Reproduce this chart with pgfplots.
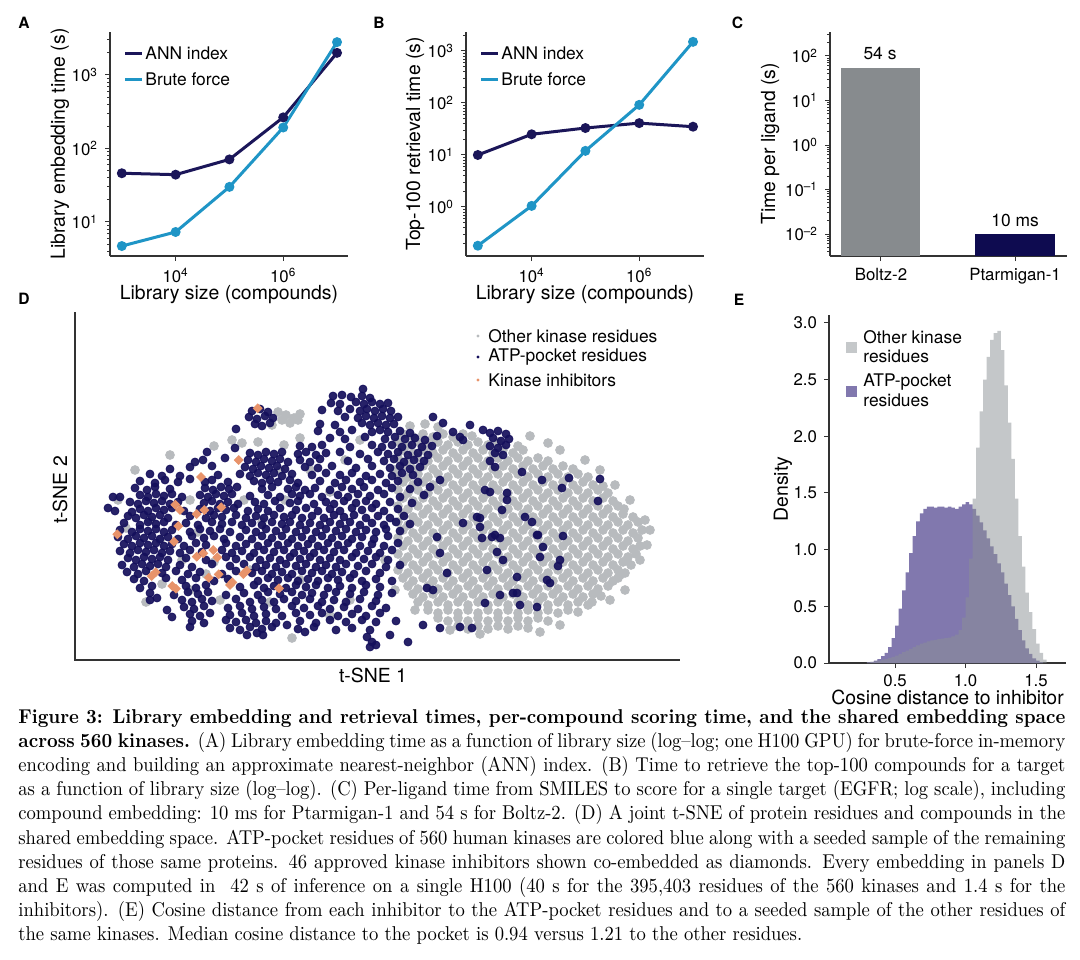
\documentclass[border=0pt]{standalone}
\usepackage{fontspec}
\setsansfont{TeX Gyre Heros}
\newfontfamily\capfont{lmroman10-regular.otf}[BoldFont=lmroman10-bold.otf, FakeStretch=0.93, Ligatures=TeX]
\usepackage{pgfplots}
\pgfplotsset{compat=1.18}
\definecolor{ann}{HTML}{1B1659}
\definecolor{brute}{HTML}{1F95C6}
\definecolor{barg}{HTML}{878B8E}
\definecolor{barn}{HTML}{0E0B50}
\definecolor{navyD}{HTML}{15105C}
\definecolor{grayD}{HTML}{B8BBBE}
\definecolor{orangeD}{HTML}{E8936A}
\definecolor{histg}{HTML}{8B9195}
\definecolor{histp}{HTML}{8178AE}
\definecolor{histgl}{HTML}{C5C8CA}
\definecolor{axgray}{HTML}{333333}
\newcommand{\tickfont}{\sffamily\fontsize{8.4}{10}\selectfont}
\newcommand{\labfont}{\sffamily\fontsize{9.7}{11}\selectfont}
\newcommand{\legfont}{\sffamily\fontsize{8.7}{10}\selectfont}
\pgfplotsset{panel/.style={scale only axis, anchor=north west, axis lines*=left,
 axis line style={-,axgray,line width=0.6pt}, tick style={axgray,line width=0.5pt},
 tick align=outside, major tick length=2.5pt, minor tick length=1.5pt,
 tick label style={font=\tickfont}, label style={font=\labfont}, clip=false}}
\begin{document}
\begin{tikzpicture}[font=\sffamily]
\path[use as bounding box, fill=white] (0,0) rectangle (540pt,-479.5pt);
% ---------------- A
\begin{axis}[panel, at={(55pt,-16pt)}, width=119pt, height=112pt,
 xmode=log, ymode=log, xmin=603, xmax=1.6e7, ymin=3.44, ymax=3846,
 xtick={1e4,1e6}, xticklabels={10\textsuperscript{4},10\textsuperscript{6}}, xminorticks=false,
 ytick={10,100,1000}, yticklabels={10\textsuperscript{1},10\textsuperscript{2},10\textsuperscript{3}},
 minor ytick={4,5,6,7,8,9,20,30,40,50,60,70,80,90,200,300,400,500,600,700,800,900,2000,3000},
 xlabel={Library size (compounds)}, ylabel={Library embedding time (s)},
 xlabel style={at={(axis description cs:0.5,-0.17)},anchor=center},
 ylabel style={at={(axis description cs:-0.21,0.5)},anchor=center}]
\addplot[ann, line width=1.5pt, mark=*, mark size=1.7pt] coordinates {(1e3,46)(1e4,44)(1e5,71)(1e6,265)(1e7,2000)};
\addplot[brute, line width=1.5pt, mark=*, mark size=1.7pt] coordinates {(1e3,4.7)(1e4,7.3)(1e5,30)(1e6,193)(1e7,2800)};
\end{axis}
\draw[ann, line width=1.5pt] (62.5pt,-26.5pt) -- (71pt,-26.5pt);
\node[anchor=west, inner sep=0pt, font=\legfont] at (72.5pt,-26.5pt) {ANN index};
\draw[brute, line width=1.5pt] (62.5pt,-39.5pt) -- (71pt,-39.5pt);
\node[anchor=west, inner sep=0pt, font=\legfont] at (72.5pt,-39.5pt) {Brute force};
% ---------------- B
\begin{axis}[panel, at={(233pt,-16pt)}, width=119pt, height=112pt,
 xmode=log, ymode=log, xmin=603, xmax=1.6e7, ymin=0.114, ymax=2317,
 xtick={1e4,1e6}, xticklabels={10\textsuperscript{4},10\textsuperscript{6}}, xminorticks=false,
 ytick={1,10,100,1000}, yticklabels={10\textsuperscript{0},10\textsuperscript{1},10\textsuperscript{2},10\textsuperscript{3}},
 minor ytick={0.2,0.3,0.4,0.5,0.6,0.7,0.8,0.9,2,3,4,5,6,7,8,9,20,30,40,50,60,70,80,90,200,300,400,500,600,700,800,900,2000},
 xlabel={Library size (compounds)}, ylabel={Top-100 retrieval time (s)},
 xlabel style={at={(axis description cs:0.5,-0.17)},anchor=center},
 ylabel style={at={(axis description cs:-0.214,0.5)},anchor=center}]
\addplot[ann, line width=1.5pt, mark=*, mark size=1.7pt] coordinates {(1e3,10)(1e4,25)(1e5,33)(1e6,41)(1e7,35)};
\addplot[brute, line width=1.5pt, mark=*, mark size=1.7pt] coordinates {(1e3,0.18)(1e4,1.05)(1e5,12)(1e6,92)(1e7,1500)};
\end{axis}
\draw[ann, line width=1.5pt] (240.5pt,-26.5pt) -- (249pt,-26.5pt);
\node[anchor=west, inner sep=0pt, font=\legfont] at (250.5pt,-26.5pt) {ANN index};
\draw[brute, line width=1.5pt] (240.5pt,-39.5pt) -- (249pt,-39.5pt);
\node[anchor=west, inner sep=0pt, font=\legfont] at (250.5pt,-39.5pt) {Brute force};
% ---------------- C
\begin{axis}[panel, at={(415pt,-16pt)}, width=118.5pt, height=112pt,
 ymode=log, log origin y=infty, ymin=0.00321, ymax=346, xmin=-0.38, xmax=1.388,
 xtick={0,1}, xticklabels={Boltz-2,Ptarmigan-1},
 ytick={0.01,0.1,1,10,100}, yticklabels={10\textsuperscript{\textendash2},10\textsuperscript{\textendash1},10\textsuperscript{0},10\textsuperscript{1},10\textsuperscript{2}},
 minor ytick={0.004,0.005,0.006,0.007,0.008,0.009,0.02,0.03,0.04,0.05,0.06,0.07,0.08,0.09,0.2,0.3,0.4,0.5,0.6,0.7,0.8,0.9,2,3,4,5,6,7,8,9,20,30,40,50,60,70,80,90,200,300},
 ylabel={Time per ligand (s)},
 ylabel style={at={(axis description cs:-0.253,0.5)},anchor=center}]
\addplot[ybar, bar width=0.59, fill=barg, draw=none] coordinates {(0,54)};
\addplot[ybar, bar width=0.59, fill=barn, draw=none] coordinates {(1,0.01)};
\end{axis}
\node[font=\legfont] at (440pt,-26.5pt) {54 s};
\node[font=\legfont] at (507.5pt,-110.3pt) {10 ms};
% ---------------- D
\begin{axis}[scale only axis, anchor=north west, at={(37.5pt,-156pt)}, width=302.5pt, height=174pt,
 xmin=75, xmax=680, ymin=312, ymax=660, y dir=reverse, hide axis, clip=false]
% other kinase residues
\addplot[only marks, color=grayD, mark=*, mark size=2.2pt] coordinates {
(410,426)(425,424)(438,427)
(403,434)(413,437)(423,434)(433,437)(443,434)(453,437)(463,434)(472,436)
(398,442)(408,445)(418,442)(428,445)(438,442)(448,445)(458,442)(468,445)(478,442)(488,445)(498,442)(518,446)
(403,450)(413,453)(423,450)(433,453)(443,450)(453,453)(463,450)(473,453)(483,450)(493,453)(503,450)(513,453)(523,450)
(398,458)(408,461)(418,458)(428,461)(438,458)(448,461)(458,458)(468,461)(478,458)(488,461)(498,458)(508,461)(518,458)(528,461)(538,458)(548,461)
(403,466)(413,469)(423,466)(433,469)(443,466)(453,469)(463,466)(473,469)(483,466)(493,469)(503,466)(513,469)(523,466)(533,469)(543,466)(553,469)(563,466)(573,469)
(398,474)(408,477)(418,474)(428,477)(438,474)(448,477)(458,474)(468,477)(478,474)(488,477)(498,474)(508,477)(518,474)(528,477)(538,474)(548,477)(558,474)(568,477)(578,474)(588,477)
(403,482)(413,485)(423,482)(433,485)(443,482)(453,485)(463,482)(473,485)(483,482)(493,485)(503,482)(513,485)(523,482)(533,485)(543,482)(553,485)(563,482)(573,485)(583,482)(593,485)(603,486)
(398,490)(408,493)(418,490)(428,493)(438,490)(448,493)(458,490)(468,493)(478,490)(488,493)(498,490)(508,493)(518,490)(528,493)(538,490)(548,493)(558,490)(568,493)(578,490)(588,493)(598,490)(608,493)
(403,498)(413,501)(423,498)(433,501)(443,498)(453,501)(463,498)(473,501)(483,498)(493,501)(503,498)(513,501)(523,498)(533,501)(543,498)(553,501)(563,498)(573,501)(583,498)(593,501)(603,498)(613,501)
(398,506)(408,509)(418,506)(428,509)(438,506)(448,509)(458,506)(468,509)(478,506)(488,509)(498,506)(508,509)(518,506)(528,509)(538,506)(548,509)(558,506)(568,509)(578,506)(588,509)(598,506)(608,509)(618,506)(624,509)
(403,514)(413,517)(423,514)(433,517)(443,514)(453,517)(463,514)(473,517)(483,514)(493,517)(503,514)(513,517)(523,514)(533,517)(543,514)(553,517)(563,514)(573,517)(583,514)(593,517)(603,514)(613,517)(623,514)(633,517)
(398,522)(408,525)(418,522)(428,525)(438,522)(448,525)(458,522)(468,525)(478,522)(488,525)(498,522)(508,525)(518,522)(528,525)(538,522)(548,525)(558,522)(568,525)(578,522)(588,525)(598,522)(608,525)(618,522)(628,525)(638,522)
(403,530)(413,533)(423,530)(433,533)(443,530)(453,533)(463,530)(473,533)(483,530)(493,533)(503,530)(513,533)(523,530)(533,533)(543,530)(553,533)(563,530)(573,533)(583,530)(593,533)(603,530)(613,533)(623,530)(633,533)(642,530)
(398,538)(408,541)(418,538)(428,541)(438,538)(448,541)(458,538)(468,541)(478,538)(488,541)(498,538)(508,541)(518,538)(528,541)(538,538)(548,541)(558,538)(568,541)(578,538)(588,541)(598,538)(608,541)(618,538)(628,541)(638,538)
(403,546)(413,549)(423,546)(433,549)(443,546)(453,549)(463,546)(473,549)(483,546)(493,549)(503,546)(513,549)(523,546)(533,549)(543,546)(553,549)(563,546)(573,549)(583,546)(593,549)(603,546)(613,549)(623,546)(633,549)(640,546)
(398,554)(408,557)(418,554)(428,557)(438,554)(448,557)(458,554)(468,557)(478,554)(488,557)(498,554)(508,557)(518,554)(528,557)(538,554)(548,557)(558,554)(568,557)(578,554)(588,557)(598,554)(608,557)(618,554)(628,557)(636,554)
(403,562)(413,565)(423,562)(433,565)(443,562)(453,565)(463,562)(473,565)(483,562)(493,565)(503,562)(513,565)(523,562)(533,565)(543,562)(553,565)(563,562)(573,565)(583,562)(593,565)(603,562)(613,565)(623,562)(631,565)
(398,570)(408,573)(418,570)(428,573)(438,570)(448,573)(458,570)(468,573)(478,570)(488,573)(498,570)(508,573)(518,570)(528,573)(538,570)(548,573)(558,570)(568,573)(578,570)(588,573)(598,570)(608,573)(618,570)(625,573)
(403,578)(413,581)(423,578)(433,581)(443,578)(453,581)(463,578)(473,581)(483,578)(493,581)(503,578)(513,581)(523,578)(533,581)(543,578)(553,581)(563,578)(573,581)(583,578)(593,581)(603,578)(613,581)(618,578)
(408,586)(418,589)(428,586)(438,589)(448,586)(458,589)(468,586)(478,589)(488,586)(498,589)(508,586)(518,589)(528,586)(538,589)(548,586)(558,589)(568,586)(578,589)(588,586)(598,589)(608,586)
(413,594)(423,597)(433,594)(443,597)(453,594)(463,597)(473,594)(483,597)(493,594)(503,597)(513,594)(523,597)(533,594)(543,597)(553,594)(563,597)(573,594)(583,597)(593,594)(601,596)
(418,602)(428,605)(438,602)(448,605)(458,602)(468,605)(478,602)(488,605)(498,602)(508,605)(518,602)(528,605)(538,602)(548,605)(558,602)(568,605)(578,602)(588,605)(592,602)
(428,610)(438,613)(448,610)(458,613)(468,610)(478,613)(488,610)(498,613)(508,610)(518,613)(528,610)(538,613)(548,610)(558,613)(568,610)(578,612)
(438,618)(448,621)(458,618)(468,621)(478,618)(488,621)(498,618)(508,621)(518,618)(528,621)(538,618)(548,621)
(458,626)(468,629)(478,626)(488,629)(498,626)(508,629)(518,626)(528,628)
(650,530)(647,545)(625,590)(610,600)(560,625)(540,632)(480,634)(450,630)(600,470)(585,460)(560,450)(548,443)(530,436)(615,485)(630,500)(645,520)(640,560)(620,575)
(278,412)(286,415)(294,418)(282,420)(290,423)(298,420)(272,425)(300,414)
(232,440)(214,446)(258,442)(284,445)(300,438)(310,470)(330,492)(262,522)(198,532)(182,560)(214,562)(230,582)(162,584)(146,602)(330,616)(292,638)(242,443)(150,520)(126,528)(270,602)(220,600)(206,574)(118,500)(135,470)(170,455)(190,500)(244,500)(285,500)(345,460)(360,440)(395,470)(385,560)(395,590)(415,610)(350,600)(300,580)(250,570)(190,590)(160,540)(280,470)
};
% ATP-pocket residues
\addplot[only marks, color=navyD, mark=*, mark size=2.0pt, mark options={opacity=0.92}] coordinates {
(363,389)
(333,396)(342,395)(351,397)(362,396)(370,398)
(331,403)(340,404)(356,402)(364,404)(372,402)(380,404)(388,403)
(322,410)(338,411)(350,409)(360,411)(367,409)(375,411)(383,409)(391,411)(252,411)(260,409)(268,412)
(345,417)(358,418)(366,416)(374,418)(382,416)(390,418)(398,417)(249,417)(257,419)(265,416)(273,418)(433,417)
(320,424)(335,425)(362,423)(370,425)(378,423)(386,425)(394,424)(255,424)(262,426)(270,423)(443,423)(470,425)
(318,431)(340,432)(352,430)(372,432)(380,430)(388,432)(400,431)(410,433)(453,432)(483,430)(236,429)(490,433)(498,431)(506,434)
(330,438)(345,439)(365,437)(385,439)(395,437)(405,439)(415,438)(425,440)(437,436)(460,437)(463,440)(493,438)(501,441)(509,439)
(235,448)(300,446)(312,447)(322,445)(350,447)(372,445)(382,447)(392,445)(402,447)(412,445)(422,447)(432,446)(490,446)(498,448)(506,445)
(207,452)(250,453)(258,455)(266,452)(274,454)(282,452)(298,454)(306,452)(316,455)(326,453)(340,452)(360,454)(378,452)(388,454)(398,452)(408,455)(418,453)(428,455)(495,453)(503,455)
(195,462)(203,460)(225,458)(248,460)(256,462)(264,459)(272,461)(280,459)(288,462)(300,460)(310,462)(320,459)(348,461)(368,459)(384,461)(394,459)(404,462)(414,460)(424,461)(490,461)
(170,469)(190,467)(212,466)(245,467)(253,469)(261,466)(269,468)(277,466)(285,469)(305,467)(318,468)(332,466)(356,468)(372,466)(390,468)(400,466)(410,469)(420,467)(495,467)(522,472)
(150,474)(162,476)(180,476)(218,475)(240,474)(250,476)(258,473)(266,475)(274,473)(282,476)(292,474)(312,475)(326,473)(340,475)(352,473)(366,476)(380,474)(392,476)(402,473)(413,475)(542,480)(569,478)
(140,481)(155,483)(165,480)(178,482)(190,479)(205,482)(212,480)(228,482)(254,481)(262,483)(270,480)(278,482)(290,480)(298,483)(320,481)(335,483)(346,480)(360,482)(372,480)(386,483)(398,481)(418,482)(440,480)(600,479)
(135,488)(147,490)(155,487)(170,489)(205,488)(213,490)(221,487)(229,489)(237,487)(262,489)(272,487)(288,489)(296,487)(305,490)(315,488)(330,490)(342,487)(352,489)(364,487)(378,490)(392,488)(410,489)(430,487)(485,490)(562,488)
(113,497)(120,497)(140,495)(148,497)(156,494)(164,496)(172,494)(182,497)(200,495)(208,497)(216,494)(224,496)(232,494)(250,496)(268,495)(280,497)(292,494)(300,496)(310,494)(322,497)(338,495)(348,497)(358,494)(370,496)(384,494)(400,497)(424,495)(490,492)(507,493)
(130,502)(138,504)(146,501)(154,503)(162,501)(170,504)(178,502)(204,503)(212,501)(220,504)(228,502)(238,504)(255,502)(264,504)(275,501)(290,503)(298,501)(314,504)(326,502)(334,504)(344,501)(356,503)(366,501)(376,504)(390,502)(412,503)(507,500)(598,501)
(108,508)(115,511)(132,512)(140,509)(148,511)(156,508)(164,510)(172,508)(184,511)(200,509)(210,511)(218,508)(226,510)(234,508)(248,511)(258,509)(268,511)(280,508)(296,510)(306,508)(318,511)(330,509)(340,511)(352,508)(362,510)(372,508)(384,511)(398,509)(502,510)
(128,516)(136,518)(144,515)(152,517)(160,515)(168,518)(190,516)(206,518)(214,515)(222,517)(236,515)(246,518)(256,516)(264,518)(274,515)(284,517)(292,515)(302,518)(312,516)(324,518)(334,515)(344,517)(354,515)(366,518)(378,516)(390,518)(404,516)(477,517)(480,518)(525,517)
(124,523)(140,525)(148,522)(156,524)(164,522)(176,525)(186,523)(198,525)(212,522)(222,524)(232,522)(242,525)(252,523)(262,525)(272,522)(282,524)(290,522)(300,525)(310,523)(320,525)(330,522)(340,524)(350,522)(360,525)(372,523)(384,525)(396,522)(410,524)(463,523)(532,522)
(120,530)(132,532)(140,529)(148,531)(156,529)(164,532)(172,530)(190,532)(200,529)(210,531)(220,529)(230,532)(246,530)(256,532)(266,529)(276,531)(286,529)(296,532)(306,530)(316,532)(326,529)(336,531)(346,529)(356,532)(366,530)(376,532)(386,529)(400,531)(480,527)(495,535)(537,535)
(118,537)(128,539)(136,536)(144,538)(152,536)(160,539)(168,537)(178,539)(192,536)(204,538)(214,536)(224,539)(240,537)(252,539)(262,536)(272,538)(282,536)(292,539)(302,537)(312,539)(322,536)(332,538)(342,536)(352,539)(362,537)(374,539)(388,536)(437,537)(482,538)(492,537)(500,538)(538,535)(563,536)
(124,544)(132,546)(140,543)(148,545)(156,543)(164,546)(172,544)(184,546)(196,543)(206,545)(226,543)(236,546)(246,544)(258,546)(268,543)(278,545)(288,543)(298,546)(308,544)(318,546)(328,543)(338,545)(348,543)(360,546)(372,544)(384,546)(398,543)(543,547)
(120,551)(130,553)(138,550)(146,552)(154,550)(162,553)(170,551)(180,553)(190,550)(202,552)(222,550)(232,553)(242,551)(254,553)(264,550)(274,552)(284,550)(294,553)(304,551)(314,553)(324,550)(334,552)(344,550)(356,553)(368,551)(380,553)(392,550)(440,553)(497,552)(503,560)
(128,558)(136,560)(144,557)(152,559)(160,557)(168,560)(186,558)(206,560)(226,557)(236,559)(250,557)(260,560)(270,558)(280,560)(290,557)(300,559)(310,557)(320,560)(330,558)(340,560)(352,557)(364,559)(376,557)(388,560)(540,557)(558,566)
(122,565)(134,567)(142,564)(150,566)(158,564)(166,567)(180,565)(192,567)(212,564)(230,566)(244,564)(256,567)(266,565)(276,567)(286,564)(296,566)(306,564)(316,567)(326,565)(336,567)(346,564)(358,566)(372,564)(386,567)(400,565)(560,560)(487,570)
(127,572)(138,574)(146,571)(162,573)(176,571)(188,574)(200,572)(222,574)(236,571)(252,573)(262,571)(272,574)(282,572)(292,574)(302,571)(312,573)(322,571)(332,574)(342,572)(354,574)(366,571)(380,573)(447,573)
(134,579)(144,581)(166,578)(182,580)(196,578)(214,581)(228,579)(258,581)(268,578)(278,580)(288,578)(298,581)(308,579)(318,581)(328,578)(338,580)(350,578)(362,581)(376,579)(392,581)(517,577)(547,580)
(140,588)(152,586)(186,586)(196,588)(206,585)(240,587)(254,585)(264,588)(274,586)(286,588)(296,585)(306,587)(316,585)(328,588)(340,586)(352,588)(366,585)(380,587)(427,588)(433,590)(550,583)
(150,593)(174,595)(188,592)(198,594)(208,592)(226,595)(244,593)(258,595)(268,592)(280,594)(292,592)(302,595)(312,593)(324,595)(336,592)(350,594)(364,592)(378,595)(392,593)(500,595)(513,593)(517,593)
(150,600)(157,598)(182,600)(192,602)(202,599)(212,601)(236,599)(250,602)(262,600)(274,602)(284,599)(296,601)(310,599)(322,602)(334,600)(346,602)(360,599)(376,601)(485,603)(520,605)
(167,610)(184,607)(194,609)(204,606)(228,608)(240,606)(252,609)(264,607)(276,609)(292,606)(304,608)(318,606)(330,609)(344,607)(358,609)(372,606)(386,608)(537,607)
(172,617)(190,614)(200,616)(210,613)(230,615)(242,613)(254,616)(266,614)(282,616)(296,613)(310,615)(322,613)(338,616)(352,614)(366,616)(380,613)
(192,621)(204,623)(226,620)(236,622)(246,620)(256,623)(266,621)(276,623)(287,625)(300,621)(316,623)(330,620)(346,622)(362,620)(376,622)(396,621)
(190,627)(230,628)(240,630)(250,627)(262,629)(272,627)(298,629)(314,627)(336,630)(352,628)(370,630)(423,625)(440,628)(460,627)(472,628)
(247,635)(257,633)(263,635)(305,632)(367,637)(390,635)
(372,642)(408,642)(370,647)(376,645)
};
% kinase inhibitors
\addplot[only marks, color=orangeD, mark=square*, mark size=1.55pt, mark options={rotate=45}] coordinates {
(257.7,408.3)(238.7,460)(201,477)(175.3,504.7)(180,510)(196.7,514)(204.3,510)(221.3,507.3)(117.3,534.3)(178.3,526)(174,541.7)(196.7,556.7)(203.3,553.3)(213.3,550)(217.3,557.3)(151.7,576)(155.7,572.3)(172.3,586)(176,588.7)(208.7,577.7)(218.7,574.3)(232.3,582.3)(243.3,574)(246.7,570.7)(230,585)(279,588.3)
};
\end{axis}
\draw[axgray, line width=0.6pt] (37.5pt,-156pt) -- (37.5pt,-330pt) -- (340pt,-330pt);
\node[font=\labfont] at (186.5pt,-337.5pt) {t-SNE 1};
\node[font=\labfont, rotate=90] at (30pt,-245pt) {t-SNE 2};
\fill[grayD] (239pt,-168pt) circle (0.8pt);
\node[anchor=west, inner sep=0pt, font=\legfont] at (244pt,-168pt) {Other kinase residues};
\fill[navyD] (239pt,-178.5pt) circle (0.8pt);
\node[anchor=west, inner sep=0pt, font=\legfont] at (244pt,-178.5pt) {ATP-pocket residues};
\fill[orangeD] (239pt,-190pt) circle (0.8pt);
\node[anchor=west, inner sep=0pt, font=\legfont] at (244pt,-190pt) {Kinase inhibitors};
% ---------------- E
\begin{axis}[panel, at={(414.5pt,-157.5pt)}, width=118.5pt, height=174pt,
 xmin=0.031, xmax=1.713, ymin=0, ymax=3.07,
 xtick={0.5,1,1.5}, xticklabels={0.5,1.0,1.5},
 ytick={0,0.5,1,1.5,2,2.5,3}, yticklabels={0.0,0.5,1.0,1.5,2.0,2.5,3.0},
 xlabel={Cosine distance to inhibitor}, ylabel={Density},
 xlabel style={at={(axis description cs:0.5,-0.098)},anchor=center},
 ylabel style={at={(axis description cs:-0.194,0.5)},anchor=center}]
\addplot[const plot, fill=histp, draw=none] table {
x y
0.300 0.005
0.325 0.01
0.350 0.02
0.375 0.035
0.400 0.06
0.425 0.09
0.450 0.14
0.475 0.22
0.500 0.33
0.525 0.48
0.550 0.64
0.575 0.80
0.600 0.97
0.625 1.12
0.650 1.25
0.675 1.32
0.700 1.36
0.725 1.38
0.750 1.38
0.775 1.37
0.800 1.38
0.825 1.38
0.850 1.37
0.875 1.38
0.900 1.37
0.925 1.36
0.950 1.38
0.975 1.40
1.000 1.42
1.025 1.40
1.050 1.36
1.075 1.30
1.100 1.24
1.125 1.17
1.150 1.10
1.175 1.03
1.200 0.96
1.225 0.88
1.250 0.80
1.275 0.70
1.300 0.60
1.325 0.50
1.350 0.39
1.375 0.29
1.400 0.20
1.425 0.13
1.450 0.08
1.475 0.04
1.500 0.02
1.525 0.005
1.550 0.0
} \closedcycle;
\addplot[const plot, fill=histg, fill opacity=0.5, draw=none] table {
x y
0.300 0.005
0.325 0.01
0.350 0.015
0.375 0.02
0.400 0.03
0.425 0.035
0.450 0.045
0.475 0.055
0.500 0.065
0.525 0.08
0.550 0.095
0.575 0.11
0.600 0.125
0.625 0.14
0.650 0.155
0.675 0.17
0.700 0.18
0.725 0.19
0.750 0.20
0.775 0.205
0.800 0.21
0.825 0.215
0.850 0.22
0.875 0.225
0.900 0.235
0.925 0.25
0.950 0.29
0.975 0.40
1.000 0.58
1.025 0.92
1.050 1.45
1.075 1.90
1.100 2.22
1.125 2.50
1.150 2.70
1.175 2.85
1.200 2.91
1.225 2.93
1.250 2.76
1.275 2.45
1.300 2.12
1.325 1.80
1.350 1.45
1.375 1.12
1.400 0.85
1.425 0.62
1.450 0.45
1.475 0.30
1.500 0.17
1.525 0.09
1.550 0.03
1.575 0.0
} \closedcycle;
\end{axis}
\fill[histgl] (423pt,-171pt) rectangle (428.5pt,-176.5pt);
\fill[histp] (423pt,-193pt) rectangle (428.5pt,-198.5pt);
\node[anchor=west, inner sep=0pt, font=\legfont] at (431.5pt,-168.5pt) {Other kinase};
\node[anchor=west, inner sep=0pt, font=\legfont] at (431.5pt,-178pt) {residues};
\node[anchor=west, inner sep=0pt, font=\legfont] at (431.5pt,-191pt) {ATP-pocket};
\node[anchor=west, inner sep=0pt, font=\legfont] at (431.5pt,-200pt) {residues};
% ---------------- panel letters
\node[font=\sffamily\bfseries\fontsize{7.8}{9}\selectfont] at (12pt,-11.5pt) {A};
\node[font=\sffamily\bfseries\fontsize{7.8}{9}\selectfont] at (189.5pt,-11.5pt) {B};
\node[font=\sffamily\bfseries\fontsize{7.8}{9}\selectfont] at (368.75pt,-11.5pt) {C};
\node[font=\sffamily\bfseries\fontsize{7.8}{9}\selectfont] at (12pt,-149.5pt) {D};
\node[font=\sffamily\bfseries\fontsize{7.8}{9}\selectfont] at (369.5pt,-150pt) {E};
% ---------------- caption
\node[anchor=base west, inner sep=0pt] at (9pt,-361.5pt) {\parbox[t]{523.5pt}{\capfont\fontsize{10}{12.1}\selectfont
\hbox to\hsize{\textbf{Figure 3: Library embedding and retrieval times, per-compound scoring time, and the shared embedding space}}
\hbox to\hsize{\textbf{across 560 kinases.} (A) Library embedding time as a function of library size (log--log; one H100 GPU) for brute-force in-memory}
\hbox to\hsize{encoding and building an approximate nearest-neighbor (ANN) index. (B) Time to retrieve the top-100 compounds for a target}
\hbox to\hsize{as a function of library size (log--log). (C) Per-ligand time from SMILES to score for a single target (EGFR; log scale), including}
\hbox to\hsize{compound embedding: 10 ms for Ptarmigan-1 and 54 s for Boltz-2. (D) A joint t-SNE of protein residues and compounds in the}
\hbox to\hsize{shared embedding space. ATP-pocket residues of 560 human kinases are colored blue along with a seeded sample of the remaining}
\hbox to\hsize{residues of those same proteins. 46 approved kinase inhibitors shown co-embedded as diamonds. Every embedding in panels D}
\hbox to\hsize{and E was computed in \ 42 s of inference on a single H100 (40 s for the 395,403 residues of the 560 kinases and 1.4 s for the}
\hbox to\hsize{inhibitors). (E) Cosine distance from each inhibitor to the ATP-pocket residues and to a seeded sample of the other residues of}
\hbox{the same kinases. Median cosine distance to the pocket is 0.94 versus 1.21 to the other residues.}}};
\end{tikzpicture}
\end{document}
